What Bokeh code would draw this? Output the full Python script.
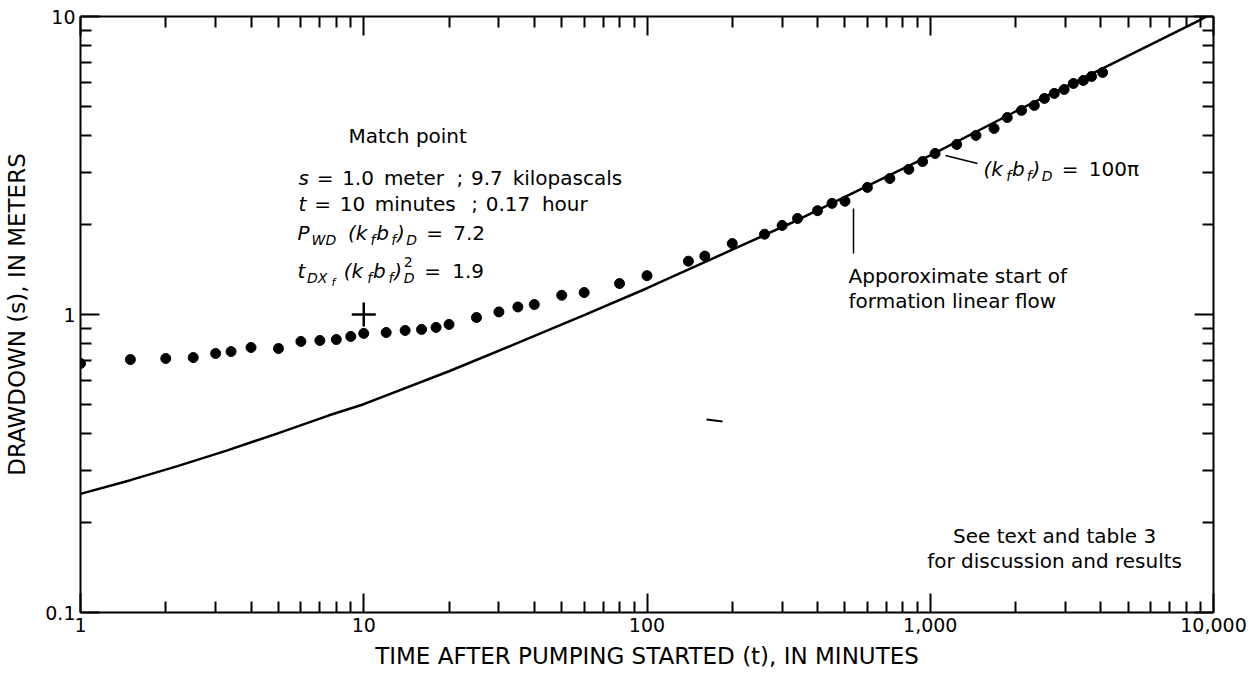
import math
from bokeh.plotting import figure
from bokeh.models import Range1d, LogAxis, FixedTicker, Label, CustomJSTickFormatter
from bokeh.embed import file_html
from bokeh.resources import INLINE

# ---------------- data ----------------
time_min = [1, 1.5, 2, 2.5, 3, 3.4, 4, 5, 6, 7,
            8, 9, 10, 12, 14, 16, 18, 20, 25, 30,
            35, 40, 50, 60, 80, 100, 140, 160, 200, 260,
            300, 340, 400, 450, 500, 600, 720, 840, 940, 1040,
            1240, 1450, 1680, 1870, 2100, 2330, 2530, 2740, 2970, 3200,
            3470, 3710, 4060]
drawdown_m = [0.685, 0.706, 0.712, 0.717, 0.740, 0.751, 0.775, 0.769, 0.812, 0.818,
              0.824, 0.844, 0.864, 0.870, 0.884, 0.891, 0.905, 0.926, 0.977, 1.02,
              1.06, 1.08, 1.16, 1.185, 1.27, 1.35, 1.51, 1.57, 1.73, 1.86,
              1.99, 2.10, 2.23, 2.36, 2.40, 2.67, 2.86, 3.07, 3.26, 3.47,
              3.72, 3.99, 4.21, 4.58, 4.84, 5.03, 5.31, 5.52, 5.69, 5.96,
              6.10, 6.29, 6.49]

curve_time = [1, 1.5, 2.2, 3.3, 5, 7.5, 10, 20, 33, 60, 100, 200, 320, 500, 1000,
              2000, 4000, 8700, 10000]
curve_drawdown = [0.25, 0.278, 0.31, 0.35, 0.40, 0.458, 0.50, 0.645, 0.785, 0.995, 1.225,
                  1.65, 2.02, 2.48, 3.42, 4.80, 6.65, 9.6, 10.3]

match_time = [10]
match_drawdown = [1.0]

x_ticks = [1, 10, 100, 1000, 10000]
x_tick_labels = ["1", "10", "100", "1,000", "10,000"]
y_ticks = [0.1, 1, 10]
y_tick_labels = ["0.1", "1", "10"]

x_title = "TIME AFTER PUMPING STARTED (t), IN MINUTES"
y_title = "DRAWDOWN (s), IN METERS"

FONT = "DejaVu Sans"

# reference frame geometry (page pixels) used to place annotations
FX0, FX1 = 80, 1213   # t = 1 and t = 10000
FY0, FY1 = 612, 16    # s = 0.1 and s = 10


def to_data(px, py):
    t = 10 ** (4.0 * (px - FX0) / (FX1 - FX0))
    s = 10 ** (-1.0 + 2.0 * (FY0 - py) / (FY0 - FY1))
    return t, s


p = figure(width=1252, height=674,
           x_axis_type="log", y_axis_type="log",
           x_range=Range1d(1, 10000), y_range=Range1d(0.1, 10),
           output_backend="svg", toolbar_location=None,
           min_border_left=80, min_border_right=39,
           min_border_top=16, min_border_bottom=62)
p.grid.visible = False
p.outline_line_color = None
p.background_fill_color = "white"
p.border_fill_color = "white"

x_minor = [m * 10 ** k for k in range(4) for m in range(2, 10)]
y_minor = [m * 10 ** k for k in (-1, 0) for m in range(2, 10)]


def make_fmt(tick_vals, labels):
    return CustomJSTickFormatter(args=dict(tv=tick_vals, lb=labels), code="""
        for (let i = 0; i < tv.length; i++) {
            if (Math.abs(Math.log10(tick) - Math.log10(tv[i])) < 1e-6) { return lb[i]; }
        }
        return "";
    """)


def style_axis(ax, show_labels, title_standoff=8):
    ax.axis_line_width = 2
    ax.axis_line_color = "black"
    ax.major_tick_line_width = 2
    ax.minor_tick_line_width = 2
    ax.major_tick_line_color = "black"
    ax.minor_tick_line_color = "black"
    ax.major_tick_in = 19
    ax.major_tick_out = 0
    ax.minor_tick_in = 11
    ax.minor_tick_out = 0
    if show_labels:
        ax.major_label_text_font = FONT
        ax.major_label_text_font_size = "19px"
        ax.major_label_text_color = "black"
        ax.major_label_standoff = 5
        ax.axis_label_text_font = FONT
        ax.axis_label_text_font_size = "23px"
        ax.axis_label_text_font_style = "normal"
        ax.axis_label_text_color = "black"
        ax.axis_label_standoff = title_standoff
    else:
        ax.major_label_text_font_size = "1px"
        ax.major_label_text_alpha = 0
        ax.major_label_standoff = 0


xa = p.xaxis[0]
xa.ticker = FixedTicker(ticks=x_ticks, minor_ticks=x_minor)
xa.formatter = make_fmt(x_ticks, x_tick_labels)
xa.axis_label = x_title
style_axis(xa, True, 8)

ya = p.yaxis[0]
ya.ticker = FixedTicker(ticks=y_ticks, minor_ticks=y_minor)
ya.formatter = make_fmt(y_ticks, y_tick_labels)
ya.axis_label = y_title
style_axis(ya, True, 12)

top = LogAxis(ticker=FixedTicker(ticks=x_ticks, minor_ticks=x_minor))
style_axis(top, False)
p.add_layout(top, "above")
right = LogAxis(ticker=FixedTicker(ticks=y_ticks, minor_ticks=y_minor))
style_axis(right, False)
p.add_layout(right, "right")

# ---------------- marks ----------------
p.line(curve_time, curve_drawdown, line_color="black", line_width=2.5)
p.scatter(time_min, drawdown_m, size=10, color="black")
p.scatter(match_time, match_drawdown, marker="cross", size=24,
          line_color="black", line_width=2.5)

# ---------------- text layout helpers ----------------
EM = {' ': 0.318, 'A': 0.684, 'B': 0.686, 'C': 0.698, 'D': 0.770, 'E': 0.632, 'F': 0.575,
      'G': 0.775, 'H': 0.752, 'I': 0.295, 'K': 0.656, 'M': 0.863, 'N': 0.748, 'O': 0.787,
      'P': 0.603, 'R': 0.695, 'S': 0.635, 'T': 0.611, 'U': 0.732, 'W': 0.989, 'X': 0.685,
      'a': 0.613, 'b': 0.635, 'c': 0.550, 'd': 0.635, 'e': 0.615, 'f': 0.352, 'h': 0.634,
      'i': 0.278, 'k': 0.579, 'l': 0.278, 'm': 0.974, 'n': 0.634, 'o': 0.612, 'p': 0.635,
      'r': 0.411, 's': 0.521, 't': 0.392, 'u': 0.634, 'x': 0.592, '.': 0.318, ',': 0.318,
      ';': 0.337, '=': 0.838, '(': 0.390, ')': 0.390, '\u03c0': 0.602}
for d in "0123456789":
    EM[d] = 0.636

ROLES = {
    "n": (20, "normal", 0),
    "i": (20, "italic", 0),
    "sub": (14, "italic", 7),
    "ssub": (11, "italic", 12),
    "sup": (14, "normal", -9),
}


def text_w(txt, size):
    return sum(EM.get(c, 0.6) for c in txt) * size


def run(pieces, x0, yc, x_end=None, spread=1.0, align="left"):
    starts, cum = [], 0.0
    for txt, role in pieces:
        size = ROLES[role.rstrip("0")][0]
        starts.append(cum)
        if not role.endswith("0"):
            cum += text_w(txt, size)
    f = spread
    if x_end is not None:
        f = abs(x_end - x0) / cum
    if align == "right":
        x0 = x0 - f * cum
    elif align == "center":
        x0 = x0 - f * cum / 2
    for (txt, role), st in zip(pieces, starts):
        if not txt.strip():
            continue
        size, style, dy = ROLES[role.rstrip("0")]
        t, s = to_data(x0 + f * st, yc + dy)
        p.add_layout(Label(x=t, y=s, text=txt,
                           text_font=FONT, text_font_size=f"{size}px",
                           text_font_style=style, text_color="black",
                           text_align="left", text_baseline="middle"))


def words(line, role="n"):
    out = []
    parts = line.split(" ")
    for k, w in enumerate(parts):
        if k:
            out.append((" ", role))
        out.append((w, role))
    return out


# match point block
run([("Match point", "n")], 348, 135)
run([("s", "i"), (" ", "n")] + words("= 1.0 meter ; 9.7 kilopascals"), 298, 177, x_end=632)
run([("t", "i"), (" ", "n")] + words("= 10 minutes ; 0.17 hour"), 298, 203, x_end=592)
run([("P", "i"), ("WD", "sub"), (" ", "n"), ("(k", "i"), ("f", "sub"), ("b", "i"),
     ("f", "sub"), (")", "i"), ("D", "sub"), (" ", "n"), ("=", "n"), (" ", "n"), ("7.2", "n")],
    297, 232, x_end=490)
run([("t", "i"), ("DX", "sub"), ("f", "ssub"), (" ", "n"), ("(k", "i"), ("f", "sub"), ("b", "i"),
     ("f", "sub"), (")", "i"), ("2", "sup0"), ("D", "sub"), (" ", "n"), ("=", "n"), (" ", "n"),
     ("1.9", "n")],
    297, 270, x_end=490)

# type-curve label
run([("(k", "i"), ("f", "sub"), ("b", "i"), ("f", "sub"), (")", "i"), ("D", "sub"), (" ", "n"),
     ("=", "n"), (" ", "n"), ("100\u03c0", "n")], 983, 168, x_end=1147)
lx, ly = zip(to_data(945, 155), to_data(977, 163))
p.line(list(lx), list(ly), line_color="black", line_width=1.5)

# linear-flow note
run([("Apporoximate start of", "n")], 848, 275)
run([("formation linear flow", "n")], 848, 300)
vx, vy = zip(to_data(853, 208), to_data(853, 253))
p.line(list(vx), list(vy), line_color="black", line_width=1.5)

# small mark in the reference
mx, my = zip(to_data(706, 419), to_data(722, 421))
p.line(list(mx), list(my), line_color="black", line_width=2)

# discussion note (centred lines)
note_w = text_w("for discussion and results", 20)
run([("See text and table 3", "n")], 1182 - note_w / 2, 535, align="center")
run([("for discussion and results", "n")], 1182 - note_w / 2, 560, align="center")

open("out.html", "w").write(file_html(p, INLINE, title="Drawdown"))
